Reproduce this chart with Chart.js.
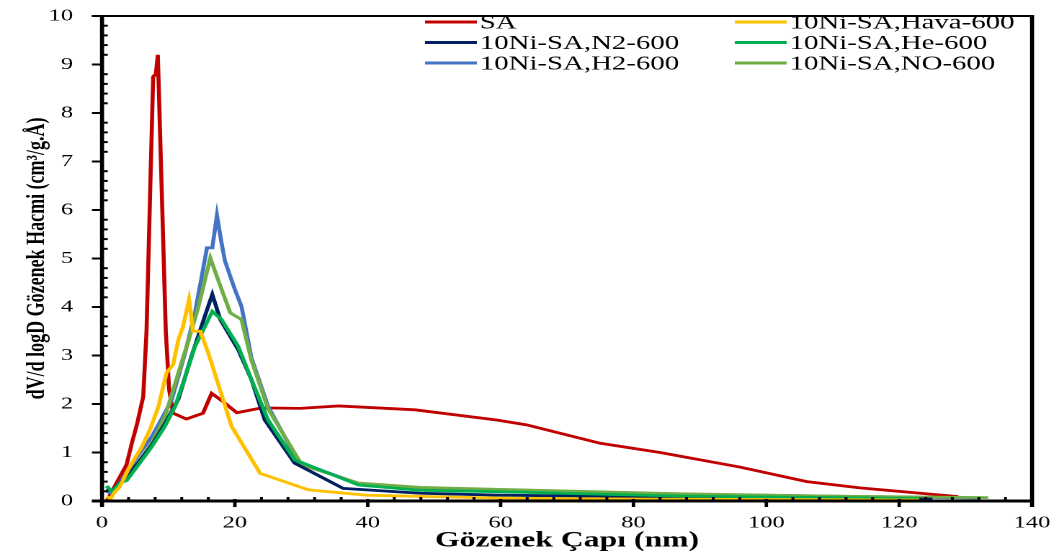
<!DOCTYPE html>
<html>
<head>
<meta charset="utf-8">
<script src="https://cdn.jsdelivr.net/npm/chart.js@4/dist/chart.umd.min.js"></script>
<style>
  html, body { margin: 0; padding: 0; background: #fff; }
  #wrap { width: 1059px; height: 556px; overflow: hidden; position: relative; }
  /* the source figure is stretched sideways, so the chart is drawn narrow and widened */
  #chart { transform: scaleX(1.4408); transform-origin: 0 0; display: block; }
  #box { position: absolute; border-top: 2px solid #000; border-right: 4px solid #000; box-sizing: border-box; pointer-events: none; }
</style>
</head>
<body>
<div id="wrap"><canvas id="chart" width="735" height="556"></canvas><div id="box"></div></div>
<script>
const stretch = 1.4408;

const labels = ['SA', '10Ni-SA,Hava-600', '10Ni-SA,N2-600', '10Ni-SA,He-600', '10Ni-SA,H2-600', '10Ni-SA,NO-600'];
const colors = ['#C00000', '#FFC000', '#002060', '#00B050', '#4472C4', '#70AD47'];

const saX = [0.7, 1.5, 2.7, 3.7, 4.5, 5.3, 6.2, 6.7, 7.7, 8.1, 8.4, 9.6, 10.1, 10.7, 12.7, 15.2, 16.5, 18.2, 20.3, 24.0, 29.8, 35.6, 47.1, 59.4, 63.9, 75.0, 84.0, 96.0, 106.1, 114.1, 128.9];
const saY = [0.0, 0.2, 0.5, 0.75, 1.2, 1.6, 2.15, 3.5, 8.75, 8.8, 9.2, 3.5, 2.3, 1.81, 1.69, 1.81, 2.22, 2.05, 1.82, 1.92, 1.91, 1.96, 1.88, 1.67, 1.57, 1.19, 1.0, 0.70, 0.40, 0.27, 0.09];

const havaX = [0.7, 1.3, 1.8, 2.7, 3.7, 4.8, 6.0, 7.3, 8.5, 9.7, 10.7, 11.5, 12.2, 13.1, 13.7, 14.8, 16.0, 19.5, 23.8, 31.1, 39.8, 59.9, 80, 100, 123];
const havaY = [0.09, 0.05, 0.16, 0.3, 0.58, 0.85, 1.12, 1.5, 1.95, 2.64, 2.81, 3.33, 3.6, 4.15, 3.5, 3.5, 3.05, 1.54, 0.57, 0.23, 0.12, 0.06, 0.04, 0.03, 0.02];

const n2X = [0.7, 1.5, 2.5, 4.0, 5.5, 7.5, 9.5, 11.5, 13.5, 15.7, 16.6, 17.8, 20.5, 22.5, 24.5, 29.0, 36.3, 47.9, 59.9, 87, 110, 125];
const n2Y = [0.25, 0.2, 0.35, 0.55, 0.8, 1.15, 1.6, 2.1, 3.0, 3.9, 4.26, 3.74, 3.12, 2.5, 1.67, 0.78, 0.26, 0.16, 0.12, 0.08, 0.05, 0.04];

const heX = [0.7, 1.5, 2.7, 3.7, 5.5, 7.5, 9.5, 11.0, 12.5, 14.0, 15.5, 16.6, 18.0, 20.5, 22.5, 25.0, 29.0, 38.6, 47.9, 59.9, 87, 110, 123];
const heY = [0.31, 0.19, 0.37, 0.42, 0.75, 1.12, 1.55, 1.95, 2.55, 3.19, 3.6, 3.91, 3.74, 3.19, 2.5, 1.67, 0.85, 0.33, 0.22, 0.19, 0.1, 0.07, 0.05];

const h2X = [0.7, 1.5, 2.5, 4.0, 5.5, 7.5, 9.0, 10.5, 12.5, 14.0, 15.8, 16.6, 17.3, 17.9, 18.5, 20.0, 21.0, 22.5, 25.0, 29.6, 38.6, 47.9, 59.9, 87, 110, 132];
const h2Y = [0.2, 0.15, 0.35, 0.64, 0.95, 1.33, 1.7, 2.09, 3.05, 3.88, 5.22, 5.22, 5.89, 5.39, 4.95, 4.36, 4.01, 2.95, 1.95, 0.8, 0.36, 0.26, 0.22, 0.14, 0.1, 0.06];

const noX = [0.7, 1.5, 2.5, 4.0, 5.5, 7.5, 9.5, 11.5, 13.0, 14.5, 16.3, 17.5, 19.3, 21.0, 22.5, 25.0, 30.1, 38.6, 47.9, 59.9, 87, 110, 133.4];
const noY = [0.3, 0.2, 0.35, 0.5, 0.8, 1.2, 1.75, 2.64, 3.3, 4.0, 5.01, 4.55, 3.88, 3.74, 2.9, 1.9, 0.74, 0.37, 0.28, 0.24, 0.15, 0.1, 0.07];

const xTicks = [0, 20, 40, 60, 80, 100, 120, 140];
const yTicks = [0, 1, 2, 3, 4, 5, 6, 7, 8, 9, 10];

const seriesX = [saX, havaX, n2X, heX, h2X, noX];
const seriesY = [saY, havaY, n2Y, heY, h2Y, noY];
const drawOrder = [7, 1, 4, 3, 6, 5];

const serif = '"Liberation Serif", "Times New Roman", serif';

const toPoints = (xs, ys) => xs.map((v, i) => ({ x: v, y: ys[i] }));

const seg = (ctx, x1, y1, x2, y2) => {
  ctx.beginPath();
  ctx.moveTo(x1, y1);
  ctx.lineTo(x2, y2);
  ctx.stroke();
};

const legendBox = {
  id: 'legendBox',
  afterDraw(chart) {
    const { ctx } = chart;
    const colX = [295, 510];
    ctx.save();
    ctx.font = '20px ' + serif;
    ctx.fillStyle = '#000';
    ctx.textBaseline = 'middle';
    ctx.textAlign = 'left';
    chart.data.datasets.forEach((ds, i) => {
      const lx = colX[i % 2];
      const ly = 22 + Math.floor(i / 2) * 20.5;
      ctx.strokeStyle = ds.borderColor;
      ctx.lineWidth = 3;
      seg(ctx, lx, ly, lx + 36, ly);
      ctx.fillText(ds.label, lx + 38, ly + 1);
    });
    ctx.restore();
  }
};

const axisTicks = {
  id: 'axisTicks',
  afterDraw(chart) {
    const { ctx, scales: { x, y } } = chart;
    const left = x.getPixelForValue(0), right = x.getPixelForValue(140);
    const top = y.getPixelForValue(10), bottom = y.getPixelForValue(0);
    ctx.save();
    ctx.strokeStyle = '#000';

    ctx.lineWidth = 2.8;
    seg(ctx, left, top - 1, left, bottom + 6);
    seg(ctx, right, top - 1, right, bottom + 6);
    ctx.lineWidth = 2;
    seg(ctx, left - 7, top, right, top);
    ctx.lineWidth = 3;
    seg(ctx, left - 7, bottom, right, bottom);

    // y ticks, majors out, minors in
    ctx.lineWidth = 2;
    yTicks.forEach(v => {
      const py = y.getPixelForValue(v);
      seg(ctx, left - 7, py, left, py);
    });
    for (let v = 0.2; v < 10; v += 0.2) {
      if (Math.abs(v - Math.round(v)) < 0.01) continue;
      const py = y.getPixelForValue(v);
      seg(ctx, left, py, left + 4, py);
    }

    // x ticks
    ctx.lineWidth = 2.4;
    xTicks.forEach(v => {
      const px = x.getPixelForValue(v);
      seg(ctx, px, bottom - 2, px, bottom + 6);
    });
    ctx.lineWidth = 2;
    for (let v = 4; v < 140; v += 4) {
      if (v % 20 === 0) continue;
      const px = x.getPixelForValue(v);
      seg(ctx, px, bottom - 4, px, bottom);
    }
    ctx.restore();

    // top and right side of the box, placed from the scales
    const box = document.getElementById('box');
    box.style.left = ((left - 7) * stretch) + 'px';
    box.style.top = (top - 1) + 'px';
    box.style.width = ((right - left + 7) * stretch + 2) + 'px';
    box.style.height = (bottom - top + 7) + 'px';
  }
};

new Chart(document.getElementById('chart'), {
  type: 'line',
  data: {
    datasets: labels.map((name, i) => ({
      label: name,
      data: toPoints(seriesX[i], seriesY[i]),
      borderColor: colors[i],
      backgroundColor: colors[i],
      borderWidth: 2.8,
      pointRadius: 0,
      tension: 0,
      fill: false,
      order: drawOrder[i]
    }))
  },
  options: {
    responsive: false,
    devicePixelRatio: 2,
    animation: false,
    layout: { padding: { top: 16, right: 18.7, left: 0, bottom: 0 } },
    plugins: { legend: { display: false }, tooltip: { enabled: false } },
    scales: {
      x: {
        type: 'linear',
        min: 0,
        max: 140,
        afterBuildTicks: s => { s.ticks = xTicks.map(v => ({ value: v })); },
        ticks: { padding: 12, maxRotation: 0, color: '#000', font: { family: serif, size: 17 } },
        grid: { display: false, drawTicks: false },
        border: { display: false },
        title: {
          display: true,
          text: 'Gözenek Çapı (nm)',
          color: '#000',
          font: { family: serif, size: 22, weight: 'bold' },
          padding: { top: 0, bottom: 2 }
        },
        afterFit: s => { s.height = 55; s.paddingLeft = 0; s.paddingRight = 0; }
      },
      y: {
        min: 0,
        max: 10,
        afterBuildTicks: s => { s.ticks = yTicks.map(v => ({ value: v })); },
        ticks: { padding: 20, color: '#000', font: { family: serif, size: 17 } },
        grid: { display: false, drawTicks: false },
        border: { display: false },
        title: {
          display: true,
          text: 'dV/d logD Gözenek Hacmi (cm³/g.Å)',
          color: '#000',
          font: { family: serif, size: 18, weight: 'bold' },
          padding: { top: 15, bottom: 0 }
        },
        afterFit: s => { s.width = 70.8; s.paddingTop = 0; s.paddingBottom = 0; }
      }
    }
  },
  plugins: [legendBox, axisTicks]
});
</script>
</body>
</html>
